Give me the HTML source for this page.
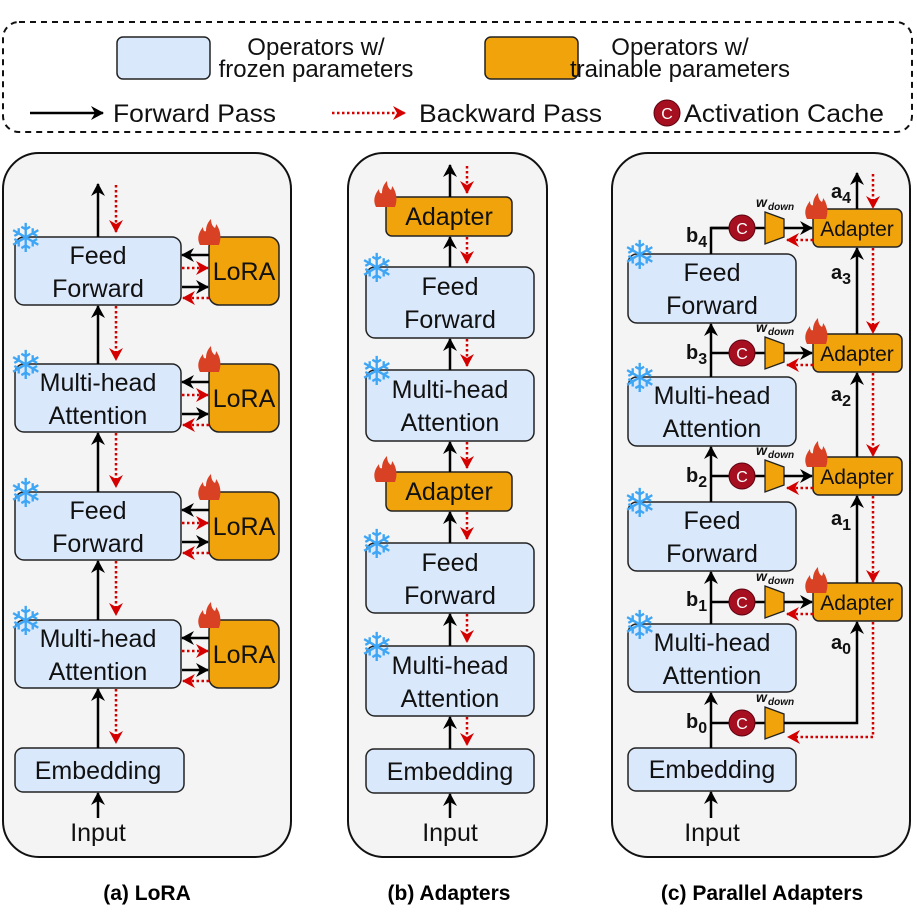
<!DOCTYPE html>
<html><head><meta charset="utf-8"><style>html,body{margin:0;padding:0;background:#fff}svg{display:block}</style></head>
<body>
<svg width="917" height="917" viewBox="0 0 917 917" xmlns="http://www.w3.org/2000/svg" font-family="Liberation Sans, Arial, sans-serif">
<defs>
<marker id="ab" markerWidth="14" markerHeight="14" refX="12" refY="7" orient="auto" markerUnits="userSpaceOnUse"><path d="M0,0 L13,7 L0,14 L4,7 Z" fill="#000"/></marker>
<marker id="ar" markerWidth="14" markerHeight="14" refX="12" refY="7" orient="auto" markerUnits="userSpaceOnUse"><path d="M0,0 L13,7 L0,14 L4,7 Z" fill="#d40000"/></marker>
<g id="flame"><path d="M2,26 C-2,18 2,12 5,8 C5,12 7,13 8,12 C8,7 10,3 13,0 C13,5 15,8 17,9 C18,7 18,6 18,5 C22,10 24,18 21,26 Z" fill="#d94125"/></g>
<g id="br">
<line x1="711" y1="0" x2="730" y2="0" stroke="#000" stroke-width="2.5"/>
<line x1="755" y1="0" x2="765" y2="0" stroke="#000" stroke-width="2.5"/>
<circle cx="742" cy="0" r="13" fill="#a50f1f" stroke="#5a0010"/>
<text x="742" y="6" style="font-size:16px;fill:#fff" text-anchor="middle">C</text>
<path d="M765,-16 L784,-9 L784,9 L765,16 Z" fill="#f0a30a" stroke="#222" stroke-width="1.3"/>
<text x="756" y="-21" style="font-size:14px;font-style:italic;font-weight:bold;fill:#111">w</text>
<text x="768" y="-18" style="font-size:10px;font-style:italic;font-weight:bold;fill:#111">down</text>
</g>
<g id="hz">
<line x1="209" y1="255" x2="182" y2="255" stroke="#000" stroke-width="2.5" marker-end="url(#ab)"/>
<line x1="182" y1="268" x2="208" y2="268" stroke="#d40000" stroke-width="2.5" stroke-dasharray="2.5 2.5" marker-end="url(#ar)"/>
<line x1="182" y1="287" x2="208" y2="287" stroke="#000" stroke-width="2.5" marker-end="url(#ab)"/>
<line x1="209" y1="298" x2="183" y2="298" stroke="#d40000" stroke-width="2.5" stroke-dasharray="2.5 2.5" marker-end="url(#ar)"/>
</g>
</defs>
<style>
.f{fill:#dae8fc;stroke:#222;stroke-width:1.5}
.o{fill:#f0a30a;stroke:#222;stroke-width:1.5}
.t{font-size:25px;fill:#111;text-anchor:middle}
.k{stroke:#000;stroke-width:2.5;fill:none}
.r{stroke:#d40000;stroke-width:2.5;stroke-dasharray:2.5 2.5;fill:none}
.s{font-size:40px;fill:#3ea6f5;font-family:"DejaVu Sans",sans-serif}
.b{font-size:20px;font-weight:bold;fill:#111}
.lg{font-size:25px;fill:#111}
</style>

<rect x="3" y="22" width="909" height="110" rx="16" fill="#fff" stroke="#111" stroke-width="2" stroke-dasharray="6 5"/>
<rect x="117" y="37" width="93" height="42" rx="6" class="f"/>
<text x="316" y="55" class="t" style="font-size:24px">Operators w/</text>
<text x="316" y="77" class="t" style="font-size:24px">frozen parameters</text>
<rect x="485" y="37" width="93" height="42" rx="6" class="o"/>
<text x="680" y="55" class="t" style="font-size:24px">Operators w/</text>
<text x="680" y="77" class="t" style="font-size:24px">trainable parameters</text>
<line x1="30" y1="113" x2="103" y2="113" class="k" marker-end="url(#ab)"/>
<text x="113" y="122" class="lg" textLength="163" lengthAdjust="spacingAndGlyphs">Forward Pass</text>
<line x1="332" y1="113" x2="405" y2="113" class="r" marker-end="url(#ar)"/>
<text x="419" y="122" class="lg" textLength="183" lengthAdjust="spacingAndGlyphs">Backward Pass</text>
<circle cx="667" cy="113" r="13" fill="#a50f1f" stroke="#5a0010"/>
<text x="667" y="119" style="font-size:16px;fill:#fff" text-anchor="middle">C</text>
<text x="684" y="122" class="lg" textLength="200" lengthAdjust="spacingAndGlyphs">Activation Cache</text>

<rect x="3" y="153" width="288" height="704" rx="36" fill="#f4f4f4" stroke="#111" stroke-width="2"/>
<rect x="348" y="153" width="199" height="704" rx="36" fill="#f4f4f4" stroke="#111" stroke-width="2"/>
<rect x="612" y="153" width="298" height="704" rx="36" fill="#f4f4f4" stroke="#111" stroke-width="2"/>

<g>
<rect x="15" y="237" width="166" height="68" rx="9" class="f"/><text x="98" y="264" class="t">Feed</text><text x="98" y="297" class="t">Forward</text>
<rect x="15" y="364" width="166" height="68" rx="9" class="f"/><text x="98" y="391" class="t">Multi-head</text><text x="98" y="424" class="t">Attention</text>
<rect x="15" y="492" width="166" height="68" rx="9" class="f"/><text x="98" y="519" class="t">Feed</text><text x="98" y="552" class="t">Forward</text>
<rect x="15" y="620" width="166" height="68" rx="9" class="f"/><text x="98" y="647" class="t">Multi-head</text><text x="98" y="680" class="t">Attention</text>
<rect x="15" y="748" width="169" height="44" rx="8" class="f"/><text x="98" y="779" class="t">Embedding</text>
<text x="98" y="841" class="t">Input</text>
<rect x="209" y="237" width="70" height="68" rx="10" class="o"/><text x="244" y="280" class="t">LoRA</text>
<rect x="209" y="364" width="70" height="68" rx="10" class="o"/><text x="244" y="407" class="t">LoRA</text>
<rect x="209" y="492" width="70" height="68" rx="10" class="o"/><text x="244" y="535" class="t">LoRA</text>
<rect x="209" y="620" width="70" height="68" rx="10" class="o"/><text x="244" y="663" class="t">LoRA</text>
<use href="#flame" x="198" y="219"/><use href="#flame" x="198" y="346"/><use href="#flame" x="198" y="474"/><use href="#flame" x="198" y="602"/>
<text x="9" y="252" class="s">❄</text><text x="9" y="379" class="s">❄</text><text x="9" y="507" class="s">❄</text><text x="9" y="635" class="s">❄</text>
<line x1="98" y1="818" x2="98" y2="793" class="k" marker-end="url(#ab)"/>
<line x1="98" y1="748" x2="98" y2="689" class="k" marker-end="url(#ab)"/>
<line x1="98" y1="620" x2="98" y2="561" class="k" marker-end="url(#ab)"/>
<line x1="98" y1="492" x2="98" y2="433" class="k" marker-end="url(#ab)"/>
<line x1="98" y1="364" x2="98" y2="306" class="k" marker-end="url(#ab)"/>
<line x1="98" y1="237" x2="98" y2="184" class="k" marker-end="url(#ab)"/>
<line x1="116" y1="185" x2="116" y2="232" class="r" marker-end="url(#ar)"/>
<line x1="116" y1="306" x2="116" y2="360" class="r" marker-end="url(#ar)"/>
<line x1="116" y1="433" x2="116" y2="487" class="r" marker-end="url(#ar)"/>
<line x1="116" y1="561" x2="116" y2="615" class="r" marker-end="url(#ar)"/>
<line x1="116" y1="689" x2="116" y2="743" class="r" marker-end="url(#ar)"/>
<use href="#hz"/><use href="#hz" y="127"/><use href="#hz" y="255"/><use href="#hz" y="383"/>
</g>

<g>
<rect x="386" y="197" width="126" height="39" rx="6" class="o"/><text x="449" y="225" class="t">Adapter</text>
<rect x="366" y="267" width="168" height="71" rx="9" class="f"/><text x="450" y="295" class="t">Feed</text><text x="450" y="328" class="t">Forward</text>
<rect x="366" y="370" width="168" height="71" rx="9" class="f"/><text x="450" y="398" class="t">Multi-head</text><text x="450" y="431" class="t">Attention</text>
<rect x="386" y="472" width="126" height="39" rx="6" class="o"/><text x="449" y="500" class="t">Adapter</text>
<rect x="366" y="543" width="168" height="70" rx="9" class="f"/><text x="450" y="571" class="t">Feed</text><text x="450" y="604" class="t">Forward</text>
<rect x="366" y="646" width="168" height="70" rx="9" class="f"/><text x="450" y="674" class="t">Multi-head</text><text x="450" y="707" class="t">Attention</text>
<rect x="366" y="749" width="168" height="44" rx="8" class="f"/><text x="450" y="780" class="t">Embedding</text>
<text x="450" y="841" class="t">Input</text>
<use href="#flame" x="374" y="181"/><use href="#flame" x="374" y="456"/>
<text x="360" y="282" class="s">❄</text><text x="360" y="385" class="s">❄</text><text x="360" y="558" class="s">❄</text><text x="360" y="661" class="s">❄</text>
<line x1="450" y1="818" x2="450" y2="794" class="k" marker-end="url(#ab)"/>
<line x1="450" y1="749" x2="450" y2="717" class="k" marker-end="url(#ab)"/>
<line x1="450" y1="646" x2="450" y2="614" class="k" marker-end="url(#ab)"/>
<line x1="450" y1="543" x2="450" y2="512" class="k" marker-end="url(#ab)"/>
<line x1="450" y1="472" x2="450" y2="442" class="k" marker-end="url(#ab)"/>
<line x1="450" y1="370" x2="450" y2="339" class="k" marker-end="url(#ab)"/>
<line x1="450" y1="267" x2="450" y2="237" class="k" marker-end="url(#ab)"/>
<line x1="450" y1="197" x2="450" y2="165" class="k" marker-end="url(#ab)"/>
<line x1="467" y1="166" x2="467" y2="193" class="r" marker-end="url(#ar)"/>
<line x1="467" y1="237" x2="467" y2="263" class="r" marker-end="url(#ar)"/>
<line x1="467" y1="339" x2="467" y2="366" class="r" marker-end="url(#ar)"/>
<line x1="467" y1="442" x2="467" y2="468" class="r" marker-end="url(#ar)"/>
<line x1="467" y1="512" x2="467" y2="539" class="r" marker-end="url(#ar)"/>
<line x1="467" y1="614" x2="467" y2="642" class="r" marker-end="url(#ar)"/>
<line x1="467" y1="717" x2="467" y2="745" class="r" marker-end="url(#ar)"/>
</g>

<g>
<rect x="628" y="254" width="168" height="69" rx="9" class="f"/><text x="712" y="281" class="t">Feed</text><text x="712" y="314" class="t">Forward</text>
<rect x="628" y="377" width="168" height="69" rx="9" class="f"/><text x="712" y="404" class="t">Multi-head</text><text x="712" y="437" class="t">Attention</text>
<rect x="628" y="502" width="168" height="69" rx="9" class="f"/><text x="712" y="529" class="t">Feed</text><text x="712" y="562" class="t">Forward</text>
<rect x="628" y="624" width="168" height="68" rx="9" class="f"/><text x="712" y="651" class="t">Multi-head</text><text x="712" y="684" class="t">Attention</text>
<rect x="628" y="748" width="168" height="43" rx="8" class="f"/><text x="712" y="778" class="t">Embedding</text>
<text x="712" y="841" class="t">Input</text>
<text x="623" y="269" class="s">❄</text><text x="623" y="392" class="s">❄</text><text x="623" y="517" class="s">❄</text><text x="623" y="639" class="s">❄</text>

<rect x="813" y="209" width="89" height="38" rx="6" class="o"/><text x="857" y="236" class="t" style="font-size:21px">Adapter</text>
<rect x="813" y="334" width="89" height="38" rx="6" class="o"/><text x="857" y="361" class="t" style="font-size:21px">Adapter</text>
<rect x="813" y="457" width="89" height="38" rx="6" class="o"/><text x="857" y="484" class="t" style="font-size:21px">Adapter</text>
<rect x="813" y="583" width="89" height="38" rx="6" class="o"/><text x="857" y="610" class="t" style="font-size:21px">Adapter</text>
<use href="#flame" x="805" y="193"/><use href="#flame" x="805" y="318"/><use href="#flame" x="805" y="441"/><use href="#flame" x="805" y="567"/>

<line x1="711" y1="818" x2="711" y2="792" class="k" marker-end="url(#ab)"/>
<line x1="711" y1="748" x2="711" y2="693" class="k" marker-end="url(#ab)"/>
<line x1="711" y1="624" x2="711" y2="572" class="k" marker-end="url(#ab)"/>
<line x1="711" y1="502" x2="711" y2="447" class="k" marker-end="url(#ab)"/>
<line x1="711" y1="377" x2="711" y2="324" class="k" marker-end="url(#ab)"/>
<polyline points="711,254 711,228 730,228" class="k"/>

<use href="#br" y="228"/>
<use href="#br" y="353"/>
<use href="#br" y="476"/>
<use href="#br" y="602"/>
<use href="#br" y="723"/>
<line x1="784" y1="228" x2="812" y2="228" class="k" marker-end="url(#ab)"/>
<line x1="784" y1="353" x2="812" y2="353" class="k" marker-end="url(#ab)"/>
<line x1="784" y1="476" x2="812" y2="476" class="k" marker-end="url(#ab)"/>
<line x1="784" y1="602" x2="812" y2="602" class="k" marker-end="url(#ab)"/>
<line x1="813" y1="240" x2="787" y2="240" class="r" marker-end="url(#ar)"/>
<line x1="813" y1="365" x2="787" y2="365" class="r" marker-end="url(#ar)"/>
<line x1="813" y1="488" x2="787" y2="488" class="r" marker-end="url(#ar)"/>
<line x1="813" y1="614" x2="787" y2="614" class="r" marker-end="url(#ar)"/>
<polyline points="784,723 857,723 857,622" class="k" marker-end="url(#ab)"/>
<polyline points="873,622 873,737 788,737" class="r" marker-end="url(#ar)"/>
<line x1="857" y1="583" x2="857" y2="496" class="k" marker-end="url(#ab)"/>
<line x1="857" y1="457" x2="857" y2="373" class="k" marker-end="url(#ab)"/>
<line x1="857" y1="334" x2="857" y2="248" class="k" marker-end="url(#ab)"/>
<line x1="857" y1="209" x2="857" y2="173" class="k" marker-end="url(#ab)"/>
<line x1="873" y1="174" x2="873" y2="208" class="r" marker-end="url(#ar)"/>
<line x1="873" y1="248" x2="873" y2="333" class="r" marker-end="url(#ar)"/>
<line x1="873" y1="373" x2="873" y2="456" class="r" marker-end="url(#ar)"/>
<line x1="873" y1="496" x2="873" y2="582" class="r" marker-end="url(#ar)"/>

<text x="686" y="242" class="b">b<tspan dy="5" font-size="16">4</tspan></text>
<text x="686" y="359" class="b">b<tspan dy="5" font-size="16">3</tspan></text>
<text x="686" y="482" class="b">b<tspan dy="5" font-size="16">2</tspan></text>
<text x="686" y="606" class="b">b<tspan dy="5" font-size="16">1</tspan></text>
<text x="686" y="728" class="b">b<tspan dy="5" font-size="16">0</tspan></text>
<text x="831" y="198" class="b">a<tspan dy="5" font-size="16">4</tspan></text>
<text x="831" y="279" class="b">a<tspan dy="5" font-size="16">3</tspan></text>
<text x="831" y="401" class="b">a<tspan dy="5" font-size="16">2</tspan></text>
<text x="831" y="525" class="b">a<tspan dy="5" font-size="16">1</tspan></text>
<text x="831" y="649" class="b">a<tspan dy="5" font-size="16">0</tspan></text>
</g>

<text x="147" y="900" style="font-size:21px;font-weight:bold" text-anchor="middle">(a) LoRA</text>
<text x="449" y="900" style="font-size:21px;font-weight:bold" text-anchor="middle">(b) Adapters</text>
<text x="762" y="900" style="font-size:21px;font-weight:bold" text-anchor="middle">(c) Parallel Adapters</text>
</svg>
</body></html>
